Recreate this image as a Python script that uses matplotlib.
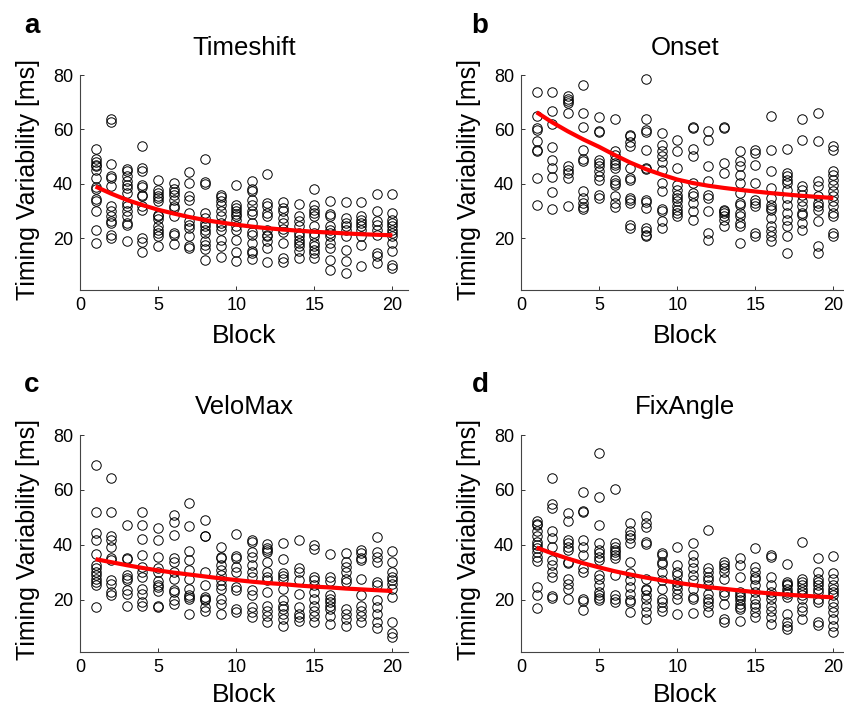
import matplotlib
matplotlib.use("Agg")
import matplotlib.pyplot as plt
import numpy as np

plt.rcParams['font.family'] = ['Liberation Sans', 'DejaVu Sans']

blocks = list(range(1, 21))
titles = ["Timeshift", "Onset", "VeloMax", "FixAngle"]
letters = ["a", "b", "c", "d"]
xticks = [0, 5, 10, 15, 20]
yticks = [20, 40, 60, 80]

timeshift = [
    [52.9, 49.1, 47.9, 47.1, 46.5, 45.2, 42.2, 38.8, 38.1, 34.4, 33.8, 29.9, 23.2, 18.4],
    [63.8, 62.6, 47.3, 43.0, 42.2, 39.1, 31.7, 29.9, 28.1, 26.5, 25.6, 21.3, 20.1],
    [45.5, 44.6, 42.8, 41.2, 39.7, 38.5, 36.6, 33.0, 31.7, 29.9, 28.1, 25.6, 25.0, 19.1],
    [54.0, 45.8, 44.6, 39.7, 38.8, 36.0, 35.7, 31.7, 30.5, 20.1, 18.5, 14.8],
    [41.5, 37.9, 36.6, 35.7, 34.8, 33.6, 28.7, 28.1, 27.2, 24.4, 23.2, 21.9, 20.7, 17.0],
    [40.3, 38.1, 36.9, 36.0, 34.2, 31.7, 31.1, 28.1, 21.9, 21.1, 17.9],
    [44.4, 40.3, 35.4, 34.2, 29.3, 26.2, 25.0, 23.8, 20.7, 17.3, 16.4],
    [49.1, 40.6, 40.0, 29.3, 27.5, 25.6, 24.4, 23.2, 21.9, 18.9, 17.6, 16.2, 12.1],
    [36.0, 35.2, 33.8, 32.4, 29.9, 28.1, 25.6, 24.4, 23.2, 19.5, 17.0, 13.1],
    [39.7, 32.4, 31.1, 29.9, 29.0, 28.1, 26.8, 24.4, 23.2, 19.5, 14.8, 11.5],
    [40.9, 38.1, 37.3, 34.2, 32.4, 29.9, 29.0, 25.6, 22.3, 21.3, 18.3, 15.2, 14.6, 12.4],
    [43.6, 33.0, 31.7, 29.3, 28.1, 23.2, 21.3, 20.7, 18.9, 16.4, 11.2],
    [33.2, 31.1, 29.9, 27.5, 25.6, 23.4, 22.2, 18.3, 12.7, 11.2],
    [32.7, 28.1, 26.2, 24.4, 21.9, 20.7, 19.5, 18.3, 17.0, 15.2, 12.7],
    [38.2, 32.4, 30.5, 29.3, 28.1, 24.4, 21.9, 20.7, 18.3, 17.0, 15.8, 14.6, 12.7],
    [33.6, 29.0, 28.1, 24.4, 23.2, 21.9, 20.7, 18.3, 16.4, 12.1, 8.5],
    [33.2, 27.5, 25.6, 24.4, 23.2, 20.7, 15.8, 11.5, 7.2],
    [33.2, 28.1, 26.8, 25.6, 24.4, 23.2, 20.7, 17.6, 9.7],
    [36.4, 29.9, 26.2, 25.0, 23.2, 21.3, 14.6, 13.4, 10.9],
    [36.3, 29.3, 26.8, 25.6, 24.4, 23.2, 21.9, 20.7, 18.3, 15.2, 10.3, 9.1],
]
timeshift_fit = [39.0, 36.4, 34.1, 32.2, 30.5, 29.1, 27.8, 26.7, 25.8, 25.0,
                 24.3, 23.7, 23.2, 22.8, 22.4, 22.1, 21.8, 21.5, 21.3, 21.1]

onset = [
    [73.7, 64.8, 60.5, 59.9, 55.6, 52.5, 52.0, 42.2, 32.4],
    [73.7, 66.7, 62.0, 53.4, 48.9, 45.8, 42.5, 36.9, 30.8],
    [72.2, 71.0, 70.3, 69.7, 66.1, 46.4, 45.2, 44.0, 42.2, 32.0],
    [76.5, 66.1, 60.9, 52.6, 49.1, 48.3, 37.3, 34.8, 33.0, 31.5, 30.8],
    [64.6, 59.6, 58.9, 48.9, 47.7, 46.4, 44.6, 42.8, 41.5, 36.0, 34.8],
    [63.8, 52.0, 50.7, 48.9, 47.7, 47.1, 45.8, 41.5, 40.3, 39.7, 35.4, 33.0, 31.5],
    [58.1, 57.5, 55.3, 54.0, 45.8, 42.2, 41.5, 34.8, 34.2, 33.0, 25.0, 23.8],
    [78.6, 63.8, 59.7, 58.9, 52.6, 45.8, 45.5, 34.2, 33.2, 31.1, 23.8, 22.5, 21.3, 20.7],
    [58.7, 54.4, 52.0, 50.1, 47.9, 45.2, 40.3, 37.3, 30.8, 29.9, 26.2, 23.8],
    [56.0, 52.0, 45.8, 39.7, 37.9, 36.0, 34.8, 33.6, 31.7, 30.5, 29.3, 28.1],
    [60.9, 60.5, 52.8, 50.1, 40.3, 36.6, 35.4, 33.0, 29.9, 26.8],
    [59.3, 56.3, 46.4, 40.9, 36.0, 34.8, 29.9, 21.9, 19.5],
    [60.9, 60.5, 47.7, 44.0, 30.5, 29.9, 29.3, 28.1, 26.8, 24.4],
    [52.0, 48.3, 46.4, 43.4, 40.3, 36.6, 33.0, 32.4, 29.3, 28.1, 25.6, 24.4, 18.3],
    [52.6, 51.3, 47.1, 40.3, 34.2, 33.0, 31.7, 21.9, 20.7],
    [65.1, 52.6, 44.6, 38.5, 34.8, 32.4, 31.1, 30.5, 27.5, 24.4, 22.5, 20.7, 18.9],
    [52.8, 44.0, 42.8, 41.5, 40.3, 37.9, 34.8, 32.4, 29.3, 26.8, 24.4, 20.7, 14.6],
    [63.8, 56.3, 39.1, 37.9, 36.0, 33.6, 31.7, 29.3, 28.7, 25.6, 23.2],
    [66.1, 55.6, 40.9, 39.1, 35.4, 33.0, 31.7, 30.5, 26.2, 17.0, 14.6],
    [53.8, 52.6, 44.6, 43.4, 41.5, 39.7, 37.3, 35.4, 33.6, 31.7, 29.3, 28.1, 21.9, 20.7],
]
onset_fit = [66.3, 62.6, 59.3, 56.3, 53.6, 50.6, 47.8, 45.4, 43.4, 41.6,
             40.3, 39.3, 38.5, 37.8, 37.2, 36.6, 36.1, 35.6, 35.2, 34.8]

velomax = [
    [69.2, 52.0, 44.5, 41.6, 36.7, 32.6, 31.4, 30.2, 29.0, 27.7, 26.5, 25.3, 17.3],
    [64.2, 52.0, 43.1, 41.8, 39.4, 35.1, 34.5, 27.1, 25.9, 22.8, 21.6],
    [47.1, 35.3, 34.7, 29.0, 28.0, 27.1, 23.4, 22.2, 17.9],
    [52.0, 47.4, 42.1, 36.3, 32.0, 30.2, 28.3, 24.0, 22.2, 19.1, 17.9],
    [46.1, 41.8, 35.7, 31.4, 30.2, 26.7, 25.5, 24.7, 23.1, 17.9, 17.3],
    [50.8, 48.3, 43.7, 35.3, 33.9, 30.2, 27.7, 23.4, 22.8, 19.8, 18.5],
    [55.3, 46.7, 37.8, 34.5, 30.8, 27.7, 24.0, 21.6, 21.0, 20.4, 14.8],
    [49.2, 43.4, 43.1, 30.2, 25.3, 21.0, 20.4, 19.8, 17.3, 16.1],
    [39.4, 35.7, 35.1, 32.6, 30.8, 29.0, 27.1, 25.3, 24.0, 20.4, 18.5, 14.8],
    [43.9, 36.0, 35.1, 32.0, 30.2, 24.7, 23.4, 16.7, 15.5],
    [41.8, 41.0, 37.5, 35.7, 32.6, 30.2, 28.3, 23.4, 21.6, 17.3, 15.5, 13.6],
    [40.2, 39.0, 38.2, 37.5, 33.9, 30.2, 28.3, 27.1, 22.8, 17.9, 16.1, 14.2, 11.8],
    [40.6, 34.8, 29.6, 28.7, 27.5, 24.0, 19.8, 17.9, 16.7, 14.8, 13.0, 10.6],
    [41.6, 31.4, 30.2, 27.1, 22.2, 17.3, 14.8, 13.6, 12.4],
    [39.8, 38.5, 28.3, 27.1, 25.3, 22.8, 20.4, 17.9, 16.1, 14.2, 11.8],
    [36.6, 28.3, 26.7, 21.6, 20.4, 19.1, 17.9, 16.7, 14.2, 11.2],
    [36.9, 33.9, 32.0, 30.2, 27.7, 26.5, 16.7, 14.8, 13.0, 10.6],
    [38.2, 36.9, 35.1, 34.5, 27.7, 21.6, 17.9, 16.1, 14.2, 11.8],
    [42.8, 37.5, 35.7, 33.9, 26.5, 25.3, 19.8, 17.3, 14.8, 11.8, 9.9],
    [37.8, 33.9, 30.2, 28.3, 27.1, 25.9, 24.0, 20.9, 11.8, 7.9, 6.6],
]
velomax_fit = [34.8, 33.7, 32.6, 31.6, 30.7, 29.9, 29.2, 28.5, 27.8, 27.2,
               26.6, 26.1, 25.7, 25.2, 24.8, 24.5, 24.1, 23.8, 23.5, 23.2]

fixangle = [
    [48.6, 47.6, 47.1, 45.2, 43.1, 41.2, 40.0, 38.8, 37.5, 35.7, 34.1, 24.7, 21.6, 16.9],
    [64.5, 55.0, 53.3, 44.9, 42.5, 39.4, 34.5, 32.6, 30.2, 28.3, 21.3, 20.6],
    [51.7, 48.6, 41.8, 40.6, 39.4, 38.2, 33.9, 33.3, 27.7, 25.9, 24.0, 20.4],
    [59.4, 52.3, 52.0, 41.8, 39.4, 36.3, 31.4, 30.2, 20.4, 19.4, 16.4],
    [73.4, 57.4, 47.1, 40.6, 38.2, 36.9, 35.7, 34.5, 29.0, 27.7, 25.5, 22.8, 21.6, 20.6, 20.1],
    [60.2, 40.6, 39.4, 38.2, 37.5, 36.3, 35.1, 29.0, 21.6, 20.4, 19.1],
    [48.0, 44.9, 43.7, 42.5, 40.6, 33.6, 29.6, 27.1, 24.7, 22.2, 19.8, 19.1, 15.5],
    [50.4, 48.0, 46.4, 41.2, 40.2, 27.7, 24.0, 23.4, 21.6, 20.4, 17.9, 15.5, 13.0],
    [36.9, 36.3, 33.9, 32.9, 30.2, 27.1, 24.0, 20.4, 19.1, 17.3, 16.1],
    [39.4, 32.6, 30.2, 29.0, 26.5, 25.3, 24.0, 22.2, 20.4, 14.8],
    [40.6, 36.3, 33.9, 31.4, 29.0, 27.1, 24.0, 21.0, 20.4, 15.2],
    [45.3, 31.4, 30.2, 28.3, 27.1, 25.3, 22.2, 20.4, 19.1, 17.9, 15.5],
    [33.9, 32.6, 31.4, 30.2, 27.7, 22.8, 21.6, 18.5, 13.0, 11.8],
    [35.1, 32.6, 28.3, 22.8, 21.6, 21.0, 19.8, 18.5, 17.3, 16.7, 12.4],
    [39.0, 32.0, 30.2, 28.3, 27.7, 25.3, 22.8, 20.4, 18.5, 17.3, 15.5, 13.6],
    [36.3, 35.7, 28.3, 25.3, 22.8, 21.6, 20.4, 17.9, 16.1, 13.6, 11.2],
    [32.9, 26.5, 25.9, 25.3, 24.0, 22.8, 22.2, 21.0, 14.8, 11.8, 10.6, 9.3],
    [41.0, 27.7, 26.5, 25.3, 24.0, 22.8, 21.6, 20.4, 17.3, 16.1, 13.0],
    [35.3, 30.2, 27.7, 26.5, 25.3, 24.0, 22.8, 20.4, 19.1, 11.8, 10.8],
    [36.0, 29.6, 27.7, 25.3, 24.0, 22.8, 21.6, 19.1, 17.3, 15.5, 13.0, 10.6, 8.1],
]
fixangle_fit = [39.0, 36.9, 35.0, 33.3, 31.8, 30.4, 29.2, 28.1, 27.1, 26.2,
                25.4, 24.6, 24.0, 23.4, 22.8, 22.3, 21.9, 21.5, 21.2, 20.9]

panels = [(timeshift, timeshift_fit), (onset, onset_fit),
          (velomax, velomax_fit), (fixangle, fixangle_fit)]

W, H = 844, 710
fig = plt.figure(figsize=(W / 100, H / 100), dpi=100)

# axes boxes in pixels: (left, top, right, bottom)
boxes = [(80, 75, 408, 290), (521, 75, 849, 290),
         (80, 435, 408, 652), (521, 435, 849, 652)]


def fx(px):
    return px / W


def fy(py):
    return 1 - py / H


for i, ((data, fit), (l, t, r, b)) in enumerate(zip(panels, boxes)):
    ax = fig.add_axes([fx(l), fy(b), (r - l) / W, (b - t) / H])
    for blk, vals in zip(blocks, data):
        ax.plot([blk] * len(vals), vals, linestyle='none', marker='o',
                markersize=6.8, markerfacecolor='none', markeredgecolor='black',
                markeredgewidth=0.7, clip_on=False)
    ax.plot(blocks, fit, color='#ff0000', linewidth=3.0, solid_capstyle='butt', zorder=5)
    ax.set_xlim(0, 21)
    ax.set_ylim(1, 80)
    ax.set_xticks(xticks)
    ax.set_yticks(yticks)
    ax.tick_params(direction='in', length=3, width=0.7, labelsize=13, pad=5,
                   colors='#333333', labelcolor='black')
    for s in ['top', 'right']:
        ax.spines[s].set_visible(False)
    for s in ['left', 'bottom']:
        ax.spines[s].set_linewidth(0.8)
        ax.spines[s].set_color('#444444')
    cx = l + 164
    row_off = 0 if i < 2 else 359
    col_off = 0 if i % 2 == 0 else 441
    fig.text(fx(cx), fy(55 + row_off), titles[i], fontsize=18.5,
             ha='center', va='baseline')
    fig.text(fx(cx), fy(343 + row_off), "Block", fontsize=19,
             ha='center', va='baseline')
    fig.text(fx(28 + col_off), fy(180 + row_off), "Timing Variability [ms]",
             fontsize=18, rotation=90, ha='center', va='center')
    fig.text(fx(24 + col_off * 1.015), fy(33 + row_off), letters[i], fontsize=20,
             fontweight='bold', ha='left', va='baseline')

fig.savefig("out.png", dpi=100)
